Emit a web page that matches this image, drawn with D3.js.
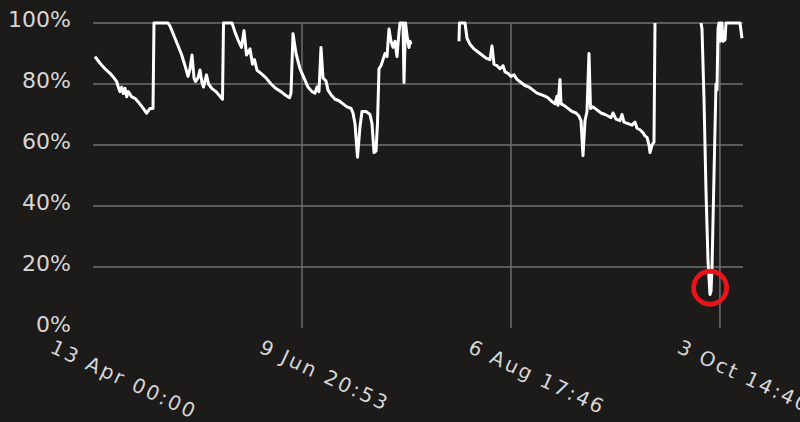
<!DOCTYPE html>
<html>
<head>
<meta charset="utf-8">
<script src="https://cdn.jsdelivr.net/npm/d3@7"></script>
<style>
  html, body { margin: 0; padding: 0; background: #1c1b1a; }
  svg { display: block; }
</style>
</head>
<body>
<svg id="chart" width="800" height="422"></svg>
<script>
// ---- data ----
const startDate = "2023-04-13T00:00:00Z";
const endDate = "2023-10-10T00:00:00Z";
// day offsets from startDate
const dayOffsets = [
  0.55, 1.94, 3.32, 4.71, 5.54, 6.56, 7.01, 7.48, 7.95, 8.39, 8.86, 9.33, 9.78, 10.72, 11.63, 12.46, 13.93, 14.87, 15.78, 16.62, 16.89,
  20.77, 21.32, 22.71, 24.57, 25.48, 26.31, 26.86, 27.42, 27.97, 28.38, 29.08, 29.63, 30.18, 30.60, 31.02, 31.43, 31.98, 32.95, 34.06, 35.17, 35.86, 36.14,
  38.49, 39.32, 40.15, 41.12, 41.82, 42.51, 43.48, 44.17, 44.72, 45.42, 46.52, 47.91, 49.29, 50.68, 52.06, 53.45, 54.42, 54.83, 55.38,
  56.22, 57.32, 58.43, 59.54, 60.65, 61.48, 62.03, 62.58, 63.14, 63.69, 64.52, 65.08, 65.91, 67.02, 68.12, 69.23, 70.34, 71.45, 72.00, 72.55,
  73.25, 73.94, 74.49, 75.60, 76.71, 77.26, 77.82, 78.37, 78.78, 79.20, 79.75, 80.31, 80.86, 81.42, 81.97, 82.52, 83.08, 83.63, 84.18, 84.74,
  85.02, 85.85, 86.12, 86.54, 86.95, 87.51, 87.78, 88.06,
  95.0,
  101.35, 101.49, 103.02, 103.57, 104.40, 105.51, 106.62, 107.72, 108.83, 109.94, 110.49, 111.05, 111.88, 112.71, 113.54, 114.09, 114.92,
  115.75, 116.58, 117.42, 118.52, 119.63, 120.74, 121.85, 122.95, 124.06, 125.17, 126.00, 126.83, 127.94, 128.49, 128.77, 129.32, 129.60,
  130.43, 131.54, 132.65, 133.75, 134.58, 135.14, 135.69, 136.25, 136.80, 137.35, 137.77, 138.46, 139.57, 140.68, 141.78, 142.62, 143.45,
  144.00, 144.83, 145.94, 146.49, 147.05, 148.15, 149.26, 150.09, 150.65, 151.48, 152.31, 152.86, 153.42, 153.97, 154.25, 154.80, 155.35, 155.63,
  162.0,
  168.37, 168.65, 169.20, 169.75, 170.31, 170.86, 171.14, 171.42, 171.97, 172.52, 172.80, 173.08, 173.35, 173.63, 173.91, 174.18, 174.46,
  175.02, 175.29, 179.17, 179.72
];
const levels = [
  89, 86.8, 85, 83.5, 82.4, 80.8, 79, 77.5, 79, 76.9, 78.6, 75.8, 77.5, 75.8, 75.3, 74.2, 72, 70.4, 72, 72, 100,
  100, 99, 95, 89.5, 86, 82.5, 85, 89.5, 82, 80.8, 82, 84.6, 80.5, 79, 81, 83, 80, 78.5, 77.5, 76, 75, 100,
  100, 97, 94.5, 92, 97.5, 89.5, 91.5, 86.5, 88, 84.5, 83.5, 82, 80, 78.5, 77.5, 76.2, 75.5, 77, 96.5,
  90, 85, 82, 79, 77.5, 77, 79, 77.5, 92, 82, 81, 78, 76.5, 75, 74.5, 73.5, 72.5, 72, 70.5, 67,
  56, 66, 71, 71, 70, 67, 57.5, 58, 67, 85, 86, 88, 90, 89, 98, 94, 92, 94, 89, 97,
  100, 100, 80.5, 100, 96, 92, 94, 93,
  null,
  94, 100, 100, 95, 93, 91.5, 90.5, 89.5, 88.5, 88, 92.5, 86.5, 86, 85, 86, 84, 83.5,
  82.5, 83, 81.5, 80.5, 79.5, 79, 78, 77, 76.5, 76, 75.5, 74.5, 73.5, 76, 73, 81.5, 73.5,
  73, 72, 71, 70.5, 69.5, 68, 56.5, 68, 71, 90, 72, 72.5, 71.5, 70.5, 70, 69.5, 69,
  70.5, 68.5, 68, 70, 67.5, 67, 66.5, 67.5, 65.5, 65, 64, 63, 62.5, 60, 57.5, 60, 61, 100,
  null,
  100, 98, 75, 45, 22, 11, 12, 20, 50, 80, 78, 98, 100, 94, 100, 100, 94,
  94.5, 100, 100, 95
];
const highlightDay = [170.9];
const highlightLevel = [13.2];
const yTicks = [0, 20, 40, 60, 80, 100];
const xTickDates = ["2023-04-13T00:00:00Z", "2023-06-09T20:53:20Z", "2023-08-06T17:46:40Z", "2023-10-03T14:40:00Z"];
const xTickLabels = ["13 Apr 00:00", "9 Jun 20:53", "6 Aug 17:46", "3 Oct 14:40"];

// ---- chart ----
const svg = d3.select("#chart");
const W = 800, H = 422;
const mLeft = 93, mRight = 743, mTop = 23, mBottom = 328;
const DAY = 86400000;
const t0 = new Date(startDate).getTime();

svg.append("rect").attr("width", W).attr("height", H).attr("fill", "#1c1b1a");

const x = d3.scaleUtc().domain([new Date(startDate), new Date(endDate)]).range([mLeft, mRight]);
const y = d3.scaleLinear().domain([0, 100]).range([mBottom, mTop]);

const data = dayOffsets.map((d, i) => ({ date: new Date(t0 + d * DAY), v: levels[i] }));

const gridColor = "#727272";
const textColor = "#d6d6d6";
const font = "'DejaVu Sans', Verdana, sans-serif";

// horizontal grid
svg.append("g").selectAll("line").data(yTicks.filter(t => t > 0)).join("line")
  .attr("x1", mLeft).attr("x2", mRight)
  .attr("y1", d => y(d)).attr("y2", d => y(d))
  .attr("stroke", gridColor).attr("stroke-width", 1.6);

// vertical grid
const xTicks = xTickDates.map(s => new Date(s));
svg.append("g").selectAll("line").data(xTicks.slice(1)).join("line")
  .attr("x1", d => x(d)).attr("x2", d => x(d))
  .attr("y1", mTop).attr("y2", mBottom)
  .attr("stroke", gridColor).attr("stroke-width", 1.4);

// y labels
svg.append("g").selectAll("text").data(yTicks).join("text")
  .attr("x", 71).attr("y", d => y(d) + 4)
  .attr("text-anchor", "end")
  .attr("font-family", font).attr("font-size", 22)
  .attr("fill", textColor)
  .text(d => d + "%");

// x labels
svg.append("g").selectAll("text").data(xTicks).join("text")
  .attr("transform", d => `translate(${x(d) - 44},352) rotate(25)`)
  .attr("text-anchor", "start")
  .attr("font-family", font).attr("font-size", 20)
  .attr("letter-spacing", 2.4)
  .attr("fill", textColor)
  .text((d, i) => xTickLabels[i]);

// line
const line = d3.line()
  .defined(d => d.v !== null)
  .x(d => x(d.date)).y(d => y(d.v));
svg.append("path").datum(data)
  .attr("d", line)
  .attr("fill", "none")
  .attr("stroke", "#ffffff")
  .attr("stroke-width", 3)
  .attr("stroke-linejoin", "round");

// highlight circle
svg.append("g").selectAll("circle").data(highlightDay).join("circle")
  .attr("cx", d => x(new Date(t0 + d * DAY)))
  .attr("cy", (d, i) => y(highlightLevel[i]))
  .attr("r", 16.5)
  .attr("fill", "none")
  .attr("stroke", "#e8141c")
  .attr("stroke-width", 4.8);
</script>
</body>
</html>
